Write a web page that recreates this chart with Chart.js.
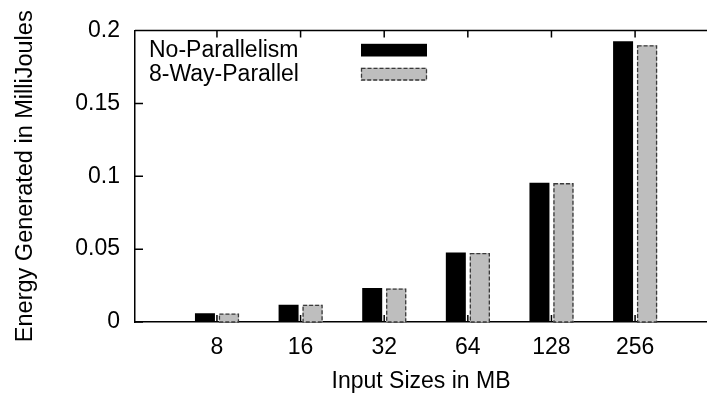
<!DOCTYPE html>
<html>
<head>
<meta charset="utf-8">
<script src="https://cdn.jsdelivr.net/npm/chart.js@4.4.0/dist/chart.umd.min.js"></script>
<style>
  html, body { margin: 0; padding: 0; background: #fff; }
  #wrap { width: 707px; height: 397px; position: relative; }
</style>
</head>
<body>
<div id="wrap"><canvas id="energyChart"></canvas></div>
<script>
// input sizes (MB) and energy generated per run (millijoules)
const inputSizes = ['8', '16', '32', '64', '128', '256'];
const noParallelism = [0.006, 0.0119, 0.0234, 0.0477, 0.0956, 0.1926];
const eightWayParallel = [0.0057, 0.0118, 0.0229, 0.0473, 0.0952, 0.1898];
const yTicks = [0, 0.05, 0.1, 0.15, 0.2];

const FONT = '"Liberation Sans", Arial, Helvetica, sans-serif';
Chart.defaults.font.family = FONT;
Chart.defaults.font.size = 23;
Chart.defaults.color = '#000';

// top border plus inward tick marks (bottom, top mirror, left)
const frame = {
  id: 'frame',
  afterDraw(chart) {
    const { ctx, chartArea: a, scales: { x, y } } = chart;
    ctx.save();
    ctx.strokeStyle = '#000';
    ctx.lineWidth = 1.5;
    ctx.beginPath();
    ctx.moveTo(a.left, a.top);
    ctx.lineTo(a.right, a.top);
    x.ticks.forEach(t => {
      const px = x.getPixelForValue(t.value);
      ctx.moveTo(px, a.bottom);
      ctx.lineTo(px, a.bottom - 7);
      ctx.moveTo(px, a.top);
      ctx.lineTo(px, a.top + 7);
    });
    y.ticks.forEach(t => {
      const py = y.getPixelForValue(t.value);
      ctx.moveTo(a.left, py);
      ctx.lineTo(a.left + 8, py);
    });
    ctx.stroke();
    ctx.restore();
  }
};

// dashed outline around the parallel-run bars
const dashedBars = {
  id: 'dashedBars',
  afterDatasetsDraw(chart) {
    const ctx = chart.ctx;
    chart.data.datasets.forEach((ds, i) => {
      if (!ds.dash) return;
      ctx.save();
      ctx.setLineDash(ds.dash);
      ctx.strokeStyle = ds.dashColor;
      ctx.lineWidth = 1.3;
      chart.getDatasetMeta(i).data.forEach(bar => {
        const { x, y, base, width } = bar.getProps(['x', 'y', 'base', 'width'], true);
        ctx.strokeRect(x - width / 2 + 0.5, y + 0.5, width - 1, base - y - 0.5);
      });
      ctx.restore();
    });
  }
};

// key in the top-left corner: label text, swatch to its right
const key = {
  id: 'key',
  afterDraw(chart) {
    const { ctx, chartArea: a } = chart;
    ctx.save();
    ctx.font = '23px ' + FONT;
    ctx.textBaseline = 'alphabetic';
    chart.data.datasets.forEach((ds, i) => {
      ctx.fillStyle = '#000';
      ctx.fillText(ds.label, a.left + 14, a.top + 26.5 + i * 23.5);
      const sx = a.left + 226, sy = a.top + 13.3 + i * 24, w = 66, h = 12.7;
      ctx.fillStyle = ds.backgroundColor;
      ctx.fillRect(sx, sy, w, h);
      if (ds.dash) {
        ctx.setLineDash(ds.dash);
        ctx.strokeStyle = ds.dashColor;
        ctx.lineWidth = 1.3;
        ctx.strokeRect(sx + 0.5, sy + 0.5, w - 1, h - 1);
        ctx.setLineDash([]);
      }
    });
    ctx.restore();
  }
};

const ctx = document.getElementById('energyChart').getContext('2d');
new Chart(ctx, {
  type: 'bar',
  data: {
    datasets: [{
      label: 'No-Parallelism',
      data: noParallelism.map((v, i) => ({ x: i, y: v })),
      backgroundColor: '#000000',
      borderWidth: 0
    }, {
      label: '8-Way-Parallel',
      data: eightWayParallel.map((v, i) => ({ x: i, y: v })),
      backgroundColor: '#bebebe',
      borderWidth: 0,
      dash: [4, 2],
      dashColor: '#3a3a3a'
    }]
  },
  options: {
    responsive: true,
    maintainAspectRatio: false,
    animation: false,
    layout: { padding: { top: 30.5, left: 0, right: 0, bottom: 0 } },
    categoryPercentage: 0.574,
    barPercentage: 0.833,
    plugins: {
      legend: { display: false },
      tooltip: { enabled: false }
    },
    scales: {
      x: {
        type: 'linear',
        offset: false,
        min: -0.98,
        max: 5.86,
        grid: { display: false, offset: false },
        border: { display: true, color: '#000', width: 1.5 },
        afterBuildTicks: scale => {
          scale.ticks = inputSizes.map((_, i) => ({ value: i }));
        },
        afterFit: scale => { scale.height = 75; },
        ticks: {
          padding: 4,
          maxRotation: 0,
          autoSkip: false,
          callback: v => inputSizes[v]
        },
        title: {
          display: true,
          text: 'Input Sizes in MB',
          padding: { top: 0, bottom: 2 }
        }
      },
      y: {
        min: 0,
        max: 0.2,
        grid: { display: false },
        border: { display: true, color: '#000', width: 1.5 },
        afterBuildTicks: scale => {
          scale.ticks = yTicks.map(v => ({ value: v }));
        },
        afterFit: scale => { scale.width = 135; },
        ticks: {
          padding: 7,
          callback: v => String(v)
        },
        title: {
          display: true,
          text: 'Energy Generated in MilliJoules',
          font: { size: 23.5 },
          padding: { top: 11, bottom: 0 }
        }
      }
    }
  },
  plugins: [dashedBars, frame, key]
});
</script>
</body>
</html>
